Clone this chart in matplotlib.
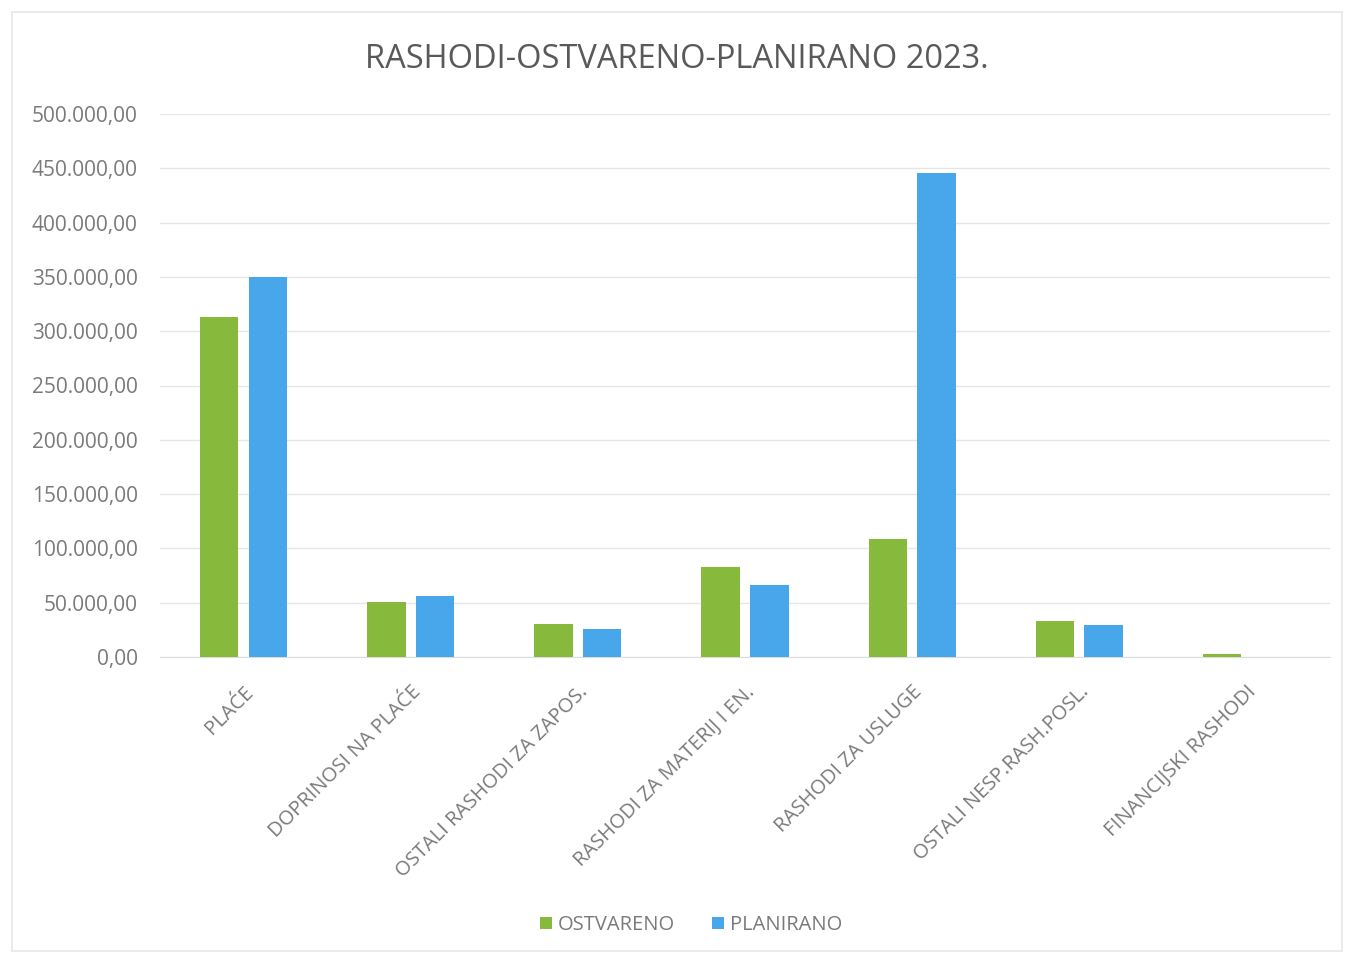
import matplotlib.pyplot as plt
import numpy as np
from matplotlib.ticker import FuncFormatter
from matplotlib.patches import Rectangle

kategorije = ['PLAĆE', 'DOPRINOSI NA PLAĆE', 'OSTALI RASHODI ZA ZAPOS.',
              'RASHODI ZA MATERIJ I EN.', 'RASHODI ZA USLUGE',
              'OSTALI NESP.RASH.POSL.', 'FINANCIJSKI RASHODI']
ostvareno = [313000, 50500, 30500, 83000, 108500, 33000, 2500]
planirano = [350000, 56000, 26000, 66500, 445500, 29500, 0]

zelena = '#86b93c'
plava = '#48a6ea'
siva = '#7a7a7a'

plt.rcParams['font.family'] = ['Open Sans', 'DejaVu Sans']

fig = plt.figure(figsize=(13.53, 9.56), dpi=100)
ax = fig.add_axes([160/1353, 1-657/956, 1170/1353, 543/956])

# blijedi okvir oko grafikona
fig.patches.append(Rectangle((12/1353, 0.005), 1330/1353, 1-17/956,
                             transform=fig.transFigure, fill=False,
                             edgecolor='#e8e8e8', linewidth=1.2))

x = np.arange(len(kategorije))
w = 0.23
ax.bar(x - 0.146, ostvareno, w, color=zelena, label='OSTVARENO', zorder=3)
ax.bar(x + 0.146, planirano, w, color=plava, label='PLANIRANO', zorder=3)

ax.set_xlim(-0.5, len(kategorije) - 0.5)
ax.set_ylim(0, 500000)
ax.set_yticks(np.arange(0, 500001, 50000))

def fmt(v, pos):
    s = '{:,.2f}'.format(v)
    return s.replace(',', 'X').replace('.', ',').replace('X', '.')

ax.yaxis.set_major_formatter(FuncFormatter(fmt))
ax.grid(axis='y', color='#e6e6e6', linewidth=1, zorder=0)
for s in ['top', 'right', 'left']:
    ax.spines[s].set_visible(False)
ax.spines['bottom'].set_color('#dcdcdc')
ax.tick_params(axis='both', length=0, colors=siva)
ax.tick_params(axis='y', pad=16, labelsize=15)

ax.set_xticks(x)
ax.set_xticklabels(kategorije, rotation=45, ha='right',
                   rotation_mode='anchor', color=siva, fontsize=14.5)
ax.tick_params(axis='x', pad=18)

fig.text(0.5, 1-60/956, 'RASHODI-OSTVARENO-PLANIRANO 2023.', ha='center',
         va='center', fontsize=23.5, color='#595959')

fig.legend(loc='center', bbox_to_anchor=(691/1353, 1-925/956), ncol=2,
           frameon=False, fontsize=14.5, handlelength=0.6, handleheight=0.6,
           handletextpad=0.3, columnspacing=1.8, labelcolor=siva)

fig.savefig('out.png', dpi=100, facecolor='white')
